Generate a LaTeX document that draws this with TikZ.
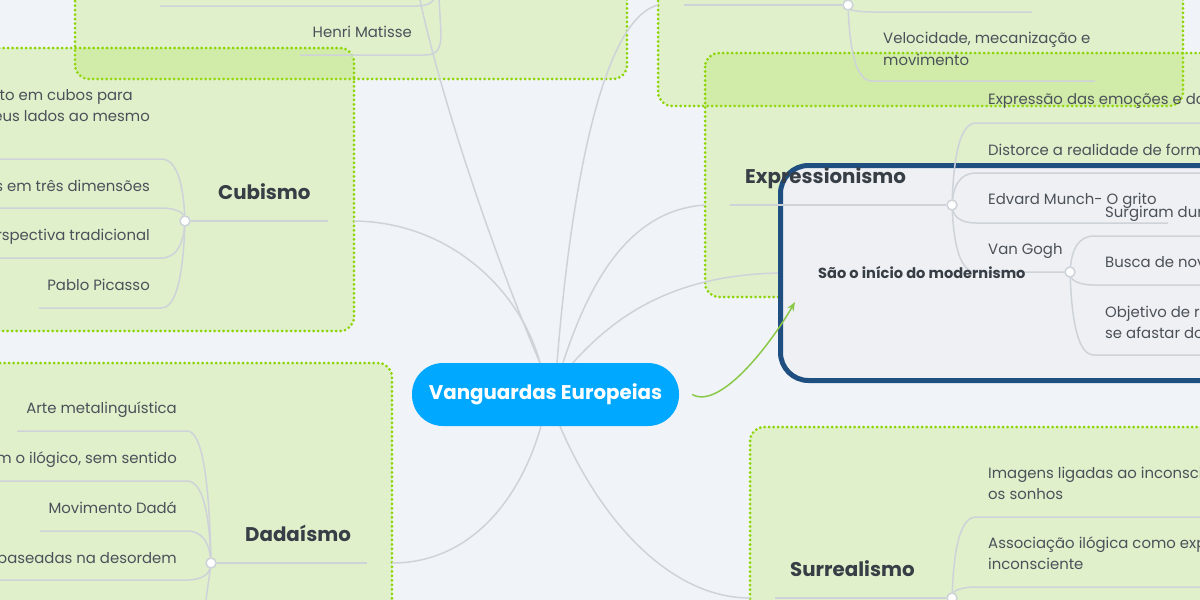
\documentclass[tikz,border=0pt]{standalone}
\usepackage{fontspec}
\setmainfont{Poppins}
\usetikzlibrary{arrows.meta}
\pgfdeclarelayer{fg}
\pgfsetlayers{main,fg}
\definecolor{bgc}{RGB}{240,244,248}
\definecolor{gfill}{RGB}{163,226,44}
\definecolor{gdot}{RGB}{140,212,0}
\definecolor{lineg}{RGB}{206,211,217}
\definecolor{txt}{RGB}{75,81,89}
\definecolor{ttl}{RGB}{55,62,70}
\definecolor{ctrb}{RGB}{0,168,255}
\definecolor{blueb}{RGB}{31,78,128}
\definecolor{boxf}{RGB}{238,240,243}
\definecolor{arrg}{RGB}{139,200,74}
\newcommand{\litem}[6]{%
  \coordinate (#6) at (#5,#4);
  \draw[conn] (#1) .. controls ({#2-2},{#3+(#4-#3)*0.6}) and ({#2-8},#4) .. ({#2-24},#4) -- (#6);}
\newcommand{\ritem}[6]{%
  \coordinate (#6) at (#5,#4);
  \draw[conn] (#1) .. controls ({#2+2},{#3+(#4-#3)*0.6}) and ({#2+8},#4) .. ({#2+24},#4) -- (#6);}
\tikzset{
  conn/.style={draw=lineg, line width=1.5pt},
  gbox/.style={fill=gfill, fill opacity=0.22, draw=gdot, line width=3pt, dash pattern=on 0pt off 4.5pt, line cap=round, rounded corners=14pt},
  item/.style={font=\fontsize{14.9}{18}\selectfont, text=txt, inner sep=0pt},
  ttlnode/.style={font=\bfseries\fontsize{19.8}{24}\selectfont, text=ttl, inner sep=0pt},
  hub/.style={circle, draw=lineg, fill=white, line width=1.5pt, minimum size=10pt, inner sep=0pt},
  ctrnode/.style={rectangle, rounded corners=31pt, fill=ctrb, text=white, font=\bfseries\fontsize{19.8}{24}\selectfont, minimum width=267pt, minimum height=63pt, inner sep=0pt},
}
\begin{document}
\begin{tikzpicture}[x=1pt,y=-1pt]
\useasboundingbox (0,0) rectangle (1200,600);
\clip (0,0) rectangle (1200,600);
\fill[bgc] (0,0) rectangle (1200,600);

% green group boxes
\path[gbox] (75,-40) rectangle (627,79);
\path[gbox] (-40,48) rectangle (354,331);
\path[gbox] (-40,363) rectangle (392,640);
\path[gbox] (658,-40) rectangle (1183,106);
\path[gbox] (705,53) rectangle (1240,297);
\path[gbox] (750,427) rectangle (1240,640);

% foreground nodes
\begin{pgfonlayer}{fg}
\node[ctrnode] (ctr) at (545.5,394.5) {Vanguardas Europeias};
\node[hub] (hC) at (185,221) {};
\node[hub] (hD) at (211,563) {};
\node[hub] (hF) at (848,5) {};
\node[hub] (hE) at (952,205) {};
\node[hub] (hV) at (1070,272) {};
\node[hub] (hS) at (952,598) {};
\end{pgfonlayer}

% connector end points
\coordinate (cubE) at (354,221);
\coordinate (tlE) at (418,-10);
\coordinate (trE) at (658,5);
\coordinate (exE) at (705,205);
\coordinate (saE) at (779,273);
\coordinate (daE) at (392,563);
\coordinate (suE) at (750,598);

% connectors from the centre
\draw[conn] ([xshift=-5.5pt]ctr.north) .. controls (520,290) and (450,222) .. (cubE);
\draw[conn] ([xshift=-5.5pt]ctr.north) .. controls (500,270) and (440,100) .. (tlE);
\draw[conn] ([xshift=11.5pt]ctr.north) .. controls (570,200) and (600,20) .. (trE);
\draw[conn] ([xshift=17.5pt]ctr.north) .. controls (590,280) and (630,210) .. (exE);
\draw[conn] ([xshift=27.5pt]ctr.north) .. controls (620,310) and (680,275) .. (saE);
\draw[conn] ([xshift=-4.5pt]ctr.south) .. controls (520,500) and (470,563) .. (daE);
\draw[conn] ([xshift=14.5pt]ctr.south) .. controls (600,520) and (670,598) .. (suE);

% blue box
\draw[line width=5pt, draw=blueb, fill=boxf, rounded corners=28pt] (780.5,165.5) rectangle (1260,380.5);

% top-left group
\coordinate (hT) at (438,-20);
\coordinate (tl1) at (160,6);
\coordinate (tl2) at (300,55);
\draw[conn] (hT) .. controls (437,0) and (433,6) .. (416,6) -- (tl1);
\draw[conn] (hT) -- (441,33) .. controls (441,50) and (437,55) .. (424,55) -- (tl2);
\node[item, anchor=base east] (tHM) at (412,37) {Henri Matisse};

% Cubismo
\litem{hC}{185}{221}{159}{-5}{c1}
\litem{hC}{185}{221}{208}{-5}{c2}
\litem{hC}{185}{221}{258}{-5}{c3}
\litem{hC}{185}{221}{308}{39}{c4}
\coordinate (cU) at (328,221);
\draw[conn] (hC) -- (cU);
\node[item, anchor=base east] (cb1a) at (133,100) {eto em cubos para};
\node[item, anchor=base east] (cb1b) at (150,121) {eus lados ao mesmo};
\node[item, anchor=base east] (cb2) at (150,191) {s em três dimensões};
\node[item, anchor=base east] (cb3) at (150,240) {rspectiva tradicional};
\node[item, anchor=base east] (cb4) at (150,290) {Pablo Picasso};
\node[ttlnode, anchor=base west] (cbT) at (218,199) {Cubismo};

% Dadaismo
\litem{hD}{211}{563}{431}{17}{d1}
\litem{hD}{211}{563}{481}{-5}{d2}
\litem{hD}{211}{563}{531}{40}{d3}
\litem{hD}{211}{563}{580}{-5}{d4}
\coordinate (d5) at (205,612);
\draw[conn] (hD) .. controls (209,580) and (206,595) .. (d5);
\coordinate (dU) at (367,563);
\draw[conn] (hD) -- (dU);
\node[item, anchor=base east] (da1) at (177,413) {Arte metalinguística};
\node[item, anchor=base east] (da2) at (177,463) {m o ilógico, sem sentido};
\node[item, anchor=base east] (da3) at (177,513) {Movimento Dadá};
\node[item, anchor=base east] (da4) at (177,563) {a baseadas na desordem};
\node[ttlnode, anchor=base west] (daT) at (245,541) {Dadaísmo};

% Futurismo (top right)
\coordinate (fU) at (684,5);
\draw[conn] (fU) -- (hF);
\ritem{hF}{848}{5}{12}{1032}{f1}
\ritem{hF}{848}{5}{81}{1095}{f2}
\node[item, anchor=base west] (fu1a) at (883,43) {Velocidade, mecanização e};
\node[item, anchor=base west] (fu1b) at (883,65) {movimento};

% Expressionismo
\coordinate (eU) at (730,205);
\draw[conn] (eU) -- (hE);
\ritem{hE}{952}{205}{123}{1205}{e1}
\ritem{hE}{952}{205}{173}{1205}{e2}
\ritem{hE}{952}{205}{223}{1168}{e3}
\draw[conn] (hE) .. controls (954,245) and (960,272) .. (976,272) -- (hV);
\node[item, anchor=base west] (ex1) at (988,104) {Expressão das emoções e do};
\node[item, anchor=base west] (ex2) at (988,155) {Distorce a realidade de forma};
\node[item, anchor=base west] (ex3) at (988,204) {Edvard Munch- O grito};
\node[item, anchor=base west] (ex4) at (988,254) {Van Gogh};
\node[ttlnode, anchor=base west] (exT) at (745,183) {Expressionismo};

\ritem{hV}{1070}{272}{236}{1205}{v1}
\ritem{hV}{1070}{272}{285}{1205}{v2}
\ritem{hV}{1070}{272}{355}{1205}{v3}
\node[item, anchor=base west] (vg1) at (1105,217) {Surgiram dur};
\node[item, anchor=base west] (vg2) at (1105,267) {Busca de nov};
\node[item, anchor=base west] (vg3a) at (1105,317) {Objetivo de r};
\node[item, anchor=base west] (vg3b) at (1105,338) {se afastar do};

\node[anchor=base west, inner sep=0pt, font=\bfseries\fontsize{14.6}{17}\selectfont, text=ttl] (sao) at (818,278) {São o início do modernismo};

% Surrealismo
\coordinate (sU) at (775,598);
\draw[conn] (sU) -- (hS);
\ritem{hS}{952}{598}{517}{1205}{s1}
\ritem{hS}{952}{598}{587}{1205}{s2}
\node[item, anchor=base west] (su1a) at (988,478) {Imagens ligadas ao inconscie};
\node[item, anchor=base west] (su1b) at (988,499) {os sonhos};
\node[item, anchor=base west] (su2a) at (988,548) {Associação ilógica como exp};
\node[item, anchor=base west] (su2b) at (988,569) {inconsciente};
\node[ttlnode, anchor=base west] (suT) at (790,576) {Surrealismo};

% green arrow
\coordinate (arE) at (795,302);
\draw[draw=arrg, line width=1.5pt, -{Stealth[length=9pt,width=7pt]}] ([xshift=13pt]ctr.east) .. controls (720,410) and (770,345) .. (arE);
\end{tikzpicture}
\end{document}
